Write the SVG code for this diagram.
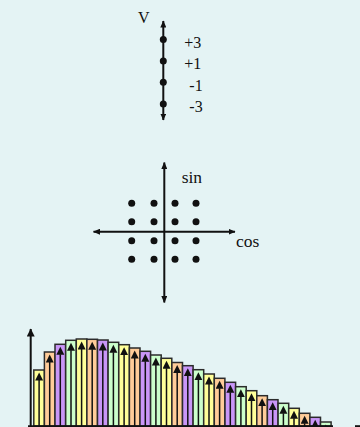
<svg xmlns="http://www.w3.org/2000/svg" width="360" height="427" viewBox="0 0 360 427">
<defs>
<style>
.lbl{font-family:"Liberation Serif","Times New Roman",serif;font-size:16px;fill:#111}
.big{font-size:17.5px}
.ax{stroke:#111;stroke-width:2;fill:none}
.dot{fill:#111}
.bar{stroke:#2b2b2b;stroke-width:1.5}
.y{fill:#ffff99}.o{fill:#ffcc99}.p{fill:#c996f7}.g{fill:#ccffcc}
.sh{stroke:#111;stroke-width:1.5;fill:none}
</style>
<marker id="ax" markerUnits="userSpaceOnUse" markerWidth="8" markerHeight="6" refX="6.5" refY="3" orient="auto-start-reverse"><path d="M0,0 L7,3 L0,6 z" fill="#111"/></marker>
<marker id="ba" markerUnits="userSpaceOnUse" markerWidth="9" markerHeight="9" refX="0.5" refY="4" orient="auto"><path d="M0,0 L8,4 L0,8 z" fill="#111"/></marker>
<marker id="ya" markerUnits="userSpaceOnUse" markerWidth="9" markerHeight="9" refX="7.5" refY="4" orient="auto"><path d="M0,0 L8,4 L0,8 z" fill="#111"/></marker>
</defs>
<rect width="360" height="427" fill="#e4f3f4"/>

<g id="voltage-levels">
<text class="lbl" x="138" y="23.3">V</text>
<line class="ax" x1="163.3" y1="21" x2="163.3" y2="120" marker-start="url(#ax)" marker-end="url(#ax)"/>
<circle class="dot" cx="163.3" cy="39.5" r="3.5"/>
<circle class="dot" cx="163.3" cy="61" r="3.5"/>
<circle class="dot" cx="163.3" cy="82.3" r="3.5"/>
<circle class="dot" cx="163.3" cy="104" r="3.5"/>
<text class="lbl" x="184.3" y="48.3">+3</text>
<text class="lbl" x="184.3" y="69.3">+1</text>
<text class="lbl" x="189.3" y="90.7">-1</text>
<text class="lbl" x="189.3" y="112.3">-3</text>
</g>

<g id="constellation">
<line class="ax" x1="164.3" y1="162.5" x2="164.3" y2="302.5" marker-start="url(#ax)" marker-end="url(#ax)"/>
<line class="ax" x1="93.5" y1="231.7" x2="235" y2="231.7" marker-start="url(#ax)" marker-end="url(#ax)"/>
<g class="dot">
<circle cx="131.7" cy="203.3" r="3.5"/><circle cx="154" cy="203.3" r="3.5"/><circle cx="175" cy="203.3" r="3.5"/><circle cx="196" cy="203.3" r="3.5"/>
<circle cx="131.7" cy="221.7" r="3.5"/><circle cx="154" cy="221.7" r="3.5"/><circle cx="175" cy="221.7" r="3.5"/><circle cx="196" cy="221.7" r="3.5"/>
<circle cx="131.7" cy="240.7" r="3.5"/><circle cx="154" cy="240.7" r="3.5"/><circle cx="175" cy="240.7" r="3.5"/><circle cx="196" cy="240.7" r="3.5"/>
<circle cx="131.7" cy="259.3" r="3.5"/><circle cx="154" cy="259.3" r="3.5"/><circle cx="175" cy="259.3" r="3.5"/><circle cx="196" cy="259.3" r="3.5"/>
</g>
<text class="lbl big" x="181.7" y="183.3">sin</text>
<text class="lbl big" x="236" y="246.7">cos</text>
</g>

<g id="spectrum">
<rect class="bar y" x="33.8" y="370" width="10.6" height="56"/>
<rect class="bar o" x="44.4" y="352" width="10.6" height="74"/>
<rect class="bar p" x="55.0" y="344.3" width="10.6" height="81.7"/>
<rect class="bar g" x="65.7" y="340.3" width="10.6" height="85.7"/>
<rect class="bar y" x="76.3" y="339" width="10.6" height="87"/>
<rect class="bar o" x="86.9" y="339.3" width="10.6" height="86.7"/>
<rect class="bar p" x="97.5" y="340" width="10.6" height="86"/>
<rect class="bar g" x="108.1" y="342.3" width="10.6" height="83.7"/>
<rect class="bar y" x="118.8" y="344.7" width="10.6" height="81.3"/>
<rect class="bar o" x="129.4" y="348" width="10.6" height="78"/>
<rect class="bar p" x="140.0" y="351.3" width="10.6" height="74.7"/>
<rect class="bar g" x="150.6" y="355" width="10.6" height="71"/>
<rect class="bar y" x="161.2" y="358.3" width="10.6" height="67.7"/>
<rect class="bar o" x="171.9" y="362.5" width="10.6" height="63.5"/>
<rect class="bar p" x="182.5" y="365.7" width="10.6" height="60.3"/>
<rect class="bar g" x="193.1" y="369.7" width="10.6" height="56.3"/>
<rect class="bar y" x="203.7" y="374" width="10.6" height="52"/>
<rect class="bar o" x="214.3" y="378.3" width="10.6" height="47.7"/>
<rect class="bar p" x="225.0" y="382.3" width="10.6" height="43.7"/>
<rect class="bar g" x="235.6" y="386.7" width="10.6" height="39.3"/>
<rect class="bar y" x="246.2" y="390.7" width="10.6" height="35.3"/>
<rect class="bar o" x="256.8" y="395.7" width="10.6" height="30.3"/>
<rect class="bar p" x="267.4" y="399.7" width="10.6" height="26.3"/>
<rect class="bar g" x="278.1" y="403.3" width="10.6" height="22.7"/>
<rect class="bar y" x="288.7" y="408.3" width="10.6" height="17.7"/>
<rect class="bar o" x="299.3" y="413.3" width="10.6" height="12.7"/>
<rect class="bar p" x="309.9" y="417.3" width="10.6" height="8.7"/>
<rect class="bar g" x="320.5" y="422" width="10.6" height="4"/>
</g>

<g id="connectors">
<line class="ax" x1="30.7" y1="427" x2="30.7" y2="329" marker-end="url(#ya)"/>
<g class="sh" marker-end="url(#ba)">
<line x1="39.1" y1="426" x2="39.1" y2="380"/>
<line x1="49.7" y1="426" x2="49.7" y2="362"/>
<line x1="60.3" y1="426" x2="60.3" y2="354.3"/>
<line x1="71.0" y1="426" x2="71.0" y2="350.3"/>
<line x1="81.6" y1="426" x2="81.6" y2="349"/>
<line x1="92.2" y1="426" x2="92.2" y2="349.3"/>
<line x1="102.8" y1="426" x2="102.8" y2="350"/>
<line x1="113.4" y1="426" x2="113.4" y2="352.3"/>
<line x1="124.1" y1="426" x2="124.1" y2="354.7"/>
<line x1="134.7" y1="426" x2="134.7" y2="358"/>
<line x1="145.3" y1="426" x2="145.3" y2="361.3"/>
<line x1="155.9" y1="426" x2="155.9" y2="365"/>
<line x1="166.5" y1="426" x2="166.5" y2="368.3"/>
<line x1="177.2" y1="426" x2="177.2" y2="372.5"/>
<line x1="187.8" y1="426" x2="187.8" y2="375.7"/>
<line x1="198.4" y1="426" x2="198.4" y2="379.7"/>
<line x1="209.0" y1="426" x2="209.0" y2="384"/>
<line x1="219.6" y1="426" x2="219.6" y2="388.3"/>
<line x1="230.3" y1="426" x2="230.3" y2="392.3"/>
<line x1="240.9" y1="426" x2="240.9" y2="396.7"/>
<line x1="251.5" y1="426" x2="251.5" y2="400.7"/>
<line x1="262.1" y1="426" x2="262.1" y2="405.7"/>
<line x1="272.7" y1="426" x2="272.7" y2="409.7"/>
<line x1="283.4" y1="426" x2="283.4" y2="413.3"/>
<line x1="294.0" y1="440" x2="294.0" y2="418.3"/>
<line x1="304.6" y1="440" x2="304.6" y2="423.3"/>
<line x1="315.2" y1="440" x2="315.2" y2="427.3"/>
<line x1="325.8" y1="440" x2="325.8" y2="432"/>
</g>
<line x1="28" y1="426.2" x2="333" y2="426.2" stroke="#111" stroke-width="2"/>
<line x1="355" y1="426.2" x2="360" y2="426.2" stroke="#111" stroke-width="2"/>
</g>
</svg>
